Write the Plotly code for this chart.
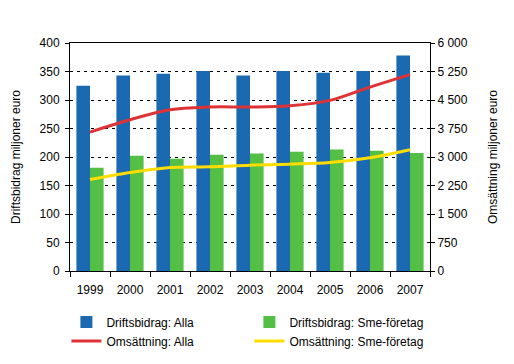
import plotly.graph_objects as go

years = ["1999", "2000", "2001", "2002", "2003", "2004", "2005", "2006", "2007"]
drift_alla = [325, 343, 346, 351, 343, 351, 348, 351, 378]
drift_sme = [181, 202, 197, 204, 206, 209, 213, 211, 207]
oms_alla = [3656, 3980, 4245, 4316, 4316, 4350, 4490, 4840, 5168]
oms_sme = [2408, 2592, 2724, 2742, 2786, 2813, 2856, 2979, 3189]

BLUE = "#1a69b1"
GREEN = "#53bf44"
RED = "#dd3336"
YELLOW = "#ffdd00"
FONT = "Liberation Sans, Arial, sans-serif"

fig = go.Figure()
fig.add_trace(go.Bar(x=years, y=drift_alla, name="Driftsbidrag: Alla",
                     marker=dict(color=BLUE, line=dict(width=0))))
fig.add_trace(go.Bar(x=years, y=drift_sme, name="Driftsbidrag: Sme-företag",
                     marker=dict(color=GREEN, line=dict(width=0))))
fig.add_trace(go.Scatter(x=years, y=oms_alla, name="Omsättning: Alla", yaxis="y2",
                         mode="lines", line=dict(color=RED, width=3, shape="spline")))
fig.add_trace(go.Scatter(x=years, y=oms_sme, name="Omsättning: Sme-företag", yaxis="y2",
                         mode="lines", line=dict(color=YELLOW, width=3, shape="spline")))

fig.update_layout(
    width=514, height=364,
    margin=dict(l=70, r=84, t=43, b=93, autoexpand=False),
    paper_bgcolor="white", plot_bgcolor="white",
    font=dict(family=FONT, size=12, color="black"),
    barmode="group", bargap=0.32, bargroupgap=0,
    separators=", ",
    showlegend=True,
    legend=dict(orientation="h", x=-0.01, xanchor="left", y=-0.16, yanchor="top",
                entrywidth=138, entrywidthmode="pixels", traceorder="normal",
                font=dict(family=FONT, size=12), tracegroupgap=0,
                bgcolor="rgba(0,0,0,0)"),
    xaxis=dict(type="category", showline=True, linecolor="black", linewidth=1,
               mirror=True, ticks="outside", ticklen=5, tickcolor="black",
               tickson="boundaries", showgrid=False, zeroline=False,
               tickfont=dict(size=12), automargin=False, ticklabelstandoff=8),
    yaxis=dict(range=[0, 400], dtick=50, showline=True, linecolor="black",
               linewidth=1, ticks="outside", ticklen=4, tickcolor="black",
               showgrid=True, gridcolor="black", griddash="3px,4px", gridwidth=1,
               zeroline=False, tickfont=dict(size=12), automargin=False,
               ticklabelstandoff=3,
               title=dict(text="Driftsbidrag miljoner euro", font=dict(size=12), standoff=16)),
    yaxis2=dict(range=[0, 6000], dtick=750, overlaying="y", side="right",
                showline=True, linecolor="black", linewidth=1, ticks="outside",
                ticklen=4, tickcolor="black", showgrid=False, zeroline=False,
                separatethousands=True, tickformat=",d", tickfont=dict(size=12),
                automargin=False,
                title=dict(text="Omsättning miljoner euro", font=dict(size=12), standoff=21)),
)

fig.write_html("out.html", config={"displayModeBar": False},
               post_script="document.body.style.margin='0px';")
